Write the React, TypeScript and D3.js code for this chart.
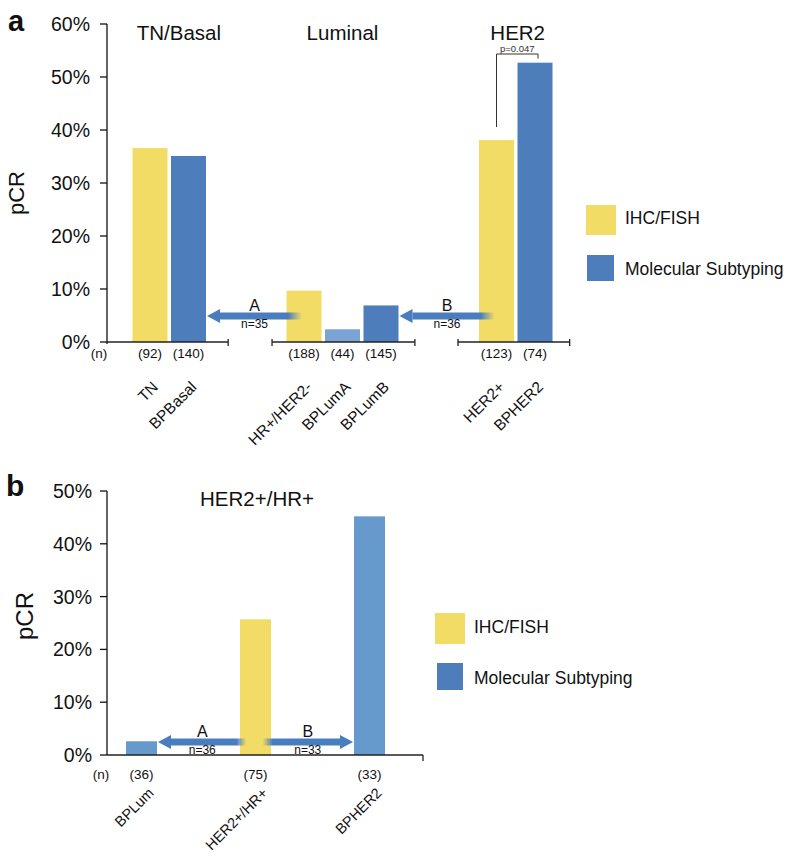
import React from "react";
import * as d3 from "d3";

// ---------- DATA ----------
const groupTitlesA = ["TN/Basal", "Luminal", "HER2"];
const categoriesA = ["TN", "BPBasal", "HR+/HER2-", "BPLumA", "BPLumB", "HER2+", "BPHER2"];
const valuesA = [36.6, 35.1, 9.7, 2.4, 6.9, 38.1, 52.7];
const countsA = [92, 140, 188, 44, 145, 123, 74];
const methodA = ["ihc", "mol", "ihc", "molLight", "mol", "ihc", "mol"];
const yTicksA = [0, 10, 20, 30, 40, 50, 60];
const arrowsA = [
  { label: "A", n: 35, from: "HR+/HER2-", to: "BPBasal" },
  { label: "B", n: 36, from: "HER2+", to: "BPLumB" },
];
const pValueA = { text: "p=0.047", from: "HER2+", to: "BPHER2" };

const groupTitleB = "HER2+/HR+";
const categoriesB = ["BPLum", "HER2+/HR+", "BPHER2"];
const valuesB = [2.6, 25.7, 45.2];
const countsB = [36, 75, 33];
const methodB = ["molB", "ihc", "molB"];
const yTicksB = [0, 10, 20, 30, 40, 50];
const arrowsB = [
  { label: "A", n: 36, from: "HER2+/HR+", to: "BPLum" },
  { label: "B", n: 33, from: "HER2+/HR+", to: "BPHER2" },
];

const legendLabels = ["IHC/FISH", "Molecular Subtyping"];

// ---------- LAYOUT / STYLE ----------
const COLORS: Record<string, string> = {
  ihc: "#F3DC66",
  mol: "#4D7EBB",
  molLight: "#7BA3D6",
  molB: "#6699CC",
  arrow: "#4A7DBE",
};
const FONT = "'Liberation Sans', Arial, Helvetica, sans-serif";
const slotsA = [0, 1, 4, 5, 6, 9, 10];
const titleSlotsA = [0.75, 5, 9.55];
const segmentsA: [number | null, number][] = [
  [null, 2.03],
  [3.17, 6.88],
  [8.0, 10.9],
];

function Arrow({ tip, tail, y, id, label, n, fade }: any) {
  const dir = tail > tip ? 1 : -1; // direction from tip to tail
  const headLen = 13;
  const headHalf = 7;
  const shaftHalf = 3.5;
  const shaftStart = tip + dir * headLen;
  const x0 = Math.min(shaftStart, tail);
  const w = Math.abs(tail - shaftStart);
  const mid = (tip + tail) / 2;
  return (
    <g>
      <defs>
        <linearGradient id={id} gradientUnits="userSpaceOnUse" x1={tail - dir * fade} x2={tail} y1={0} y2={0}>
          <stop offset="0" stopColor={COLORS.arrow} stopOpacity={1} />
          <stop offset="1" stopColor={COLORS.arrow} stopOpacity={0} />
        </linearGradient>
      </defs>
      <rect x={x0} y={y - shaftHalf} width={w} height={shaftHalf * 2} fill={`url(#${id})`} />
      <polygon
        points={`${tip},${y} ${shaftStart},${y - headHalf} ${shaftStart},${y + headHalf}`}
        fill={COLORS.arrow}
      />
      <text x={mid} y={y - 5} textAnchor="middle" fontSize={16}>
        {label}
      </text>
      <text x={mid} y={y + 11.5} textAnchor="middle" fontSize={12}>
        {`n=${n}`}
      </text>
    </g>
  );
}

export default function App() {
  const W = 786;
  const H = 857;

  // Panel a scales
  const yA = d3.scaleLinear().domain([0, 60]).range([342, 24]);
  const xA = d3.scaleLinear().domain([0, 10]).range([150, 535]);
  const bwA = 35;
  const axisXA = 107;
  const cxA = (cat: string) => xA(slotsA[categoriesA.indexOf(cat)]);

  // Panel b scales
  const yB = d3.scaleLinear().domain([0, 50]).range([755, 491]);
  const xB = d3.scaleLinear().domain([0, 2]).range([141.5, 369.5]);
  const bwB = 31;
  const axisXB = 107;
  const cxB = (cat: string) => xB(categoriesB.indexOf(cat));

  const pct = (v: number) => `${d3.format("d")(v)}%`;

  return (
    <svg
      width={W}
      height={H}
      style={{ position: "absolute", left: 0, top: 0, background: "#fff" }}
      fontFamily={FONT}
      fill="#111"
    >
      {/* ================= PANEL A ================= */}
      <text x={8} y={31} fontSize={29} fontWeight="bold">a</text>
      <text transform={`translate(24,193) rotate(-90)`} textAnchor="middle" fontSize={22}>pCR</text>

      {/* y axis */}
      <line x1={axisXA} x2={axisXA} y1={yA(60)} y2={yA(0) + 2} stroke="#111" strokeWidth={1.3} />
      {yTicksA.map((t) => (
        <g key={t}>
          <line x1={axisXA - 7} x2={axisXA} y1={yA(t)} y2={yA(t)} stroke="#111" strokeWidth={1.3} />
          <text x={90} y={yA(t)} dy="0.36em" textAnchor="end" fontSize={19.5}>{pct(t)}</text>
        </g>
      ))}

      {/* group titles */}
      {groupTitlesA.map((g, i) => (
        <text key={g} x={xA(titleSlotsA[i])} y={40} textAnchor="middle" fontSize={20.5}>{g}</text>
      ))}

      {/* bars */}
      {categoriesA.map((c, i) => (
        <rect
          key={c}
          x={xA(slotsA[i]) - bwA / 2}
          y={yA(valuesA[i])}
          width={bwA}
          height={yA(0) - yA(valuesA[i])}
          fill={COLORS[methodA[i]]}
        />
      ))}

      {/* baseline segments */}
      {segmentsA.map(([s, e], i) => {
        const x1 = s === null ? axisXA : xA(s);
        const x2 = xA(e);
        const y = yA(0);
        return (
          <g key={i} stroke="#222" strokeWidth={1.3}>
            <line x1={x1} x2={x2} y1={y} y2={y} />
            {s !== null && <line x1={x1} x2={x1} y1={y - 3} y2={y + 4} />}
            <line x1={x2} x2={x2} y1={y - 3} y2={y + 4} />
          </g>
        );
      })}

      {/* n labels */}
      <text x={99} y={358} textAnchor="middle" fontSize={13.5}>(n)</text>
      {categoriesA.map((c, i) => (
        <text key={c} x={xA(slotsA[i])} y={358} textAnchor="middle" fontSize={13.5}>{`(${countsA[i]})`}</text>
      ))}

      {/* rotated category labels */}
      {categoriesA.map((c, i) => (
        <text
          key={c}
          transform={`translate(${xA(slotsA[i]) + 9},${388}) rotate(-45)`}
          textAnchor="end"
          fontSize={15.5}
        >
          {c}
        </text>
      ))}

      {/* arrows */}
      {arrowsA.map((a, i) => {
        const tip = cxA(a.to) + bwA / 2 + 1;
        const tail = cxA(a.from) - 2;
        return (
          <Arrow key={a.label} id={`arrA${i}`} tip={tip} tail={tail} y={316} label={a.label} n={a.n} fade={14} />
        );
      })}

      {/* p-value bracket */}
      {(() => {
        const x1 = cxA(pValueA.from);
        const x2 = cxA(pValueA.to) + 3;
        const top = 54;
        return (
          <g>
            <path
              d={`M${x1},${yA(valuesA[categoriesA.indexOf(pValueA.from)]) - 13}V${top}H${x2}V${top + 4.5}`}
              fill="none"
              stroke="#333"
              strokeWidth={1}
            />
            <text x={(x1 + x2) / 2} y={52} textAnchor="middle" fontSize={9.5} fill="#333">{pValueA.text}</text>
          </g>
        );
      })()}

      {/* legend a */}
      <rect x={586} y={205} width={30} height={30} fill={COLORS.ihc} />
      <text x={625} y={218} dy="0.36em" fontSize={17.5}>{legendLabels[0]}</text>
      <rect x={587} y={255} width={27} height={26} fill={COLORS.mol} />
      <text x={625} y={269} dy="0.36em" fontSize={17.5}>{legendLabels[1]}</text>

      {/* ================= PANEL B ================= */}
      <text x={6} y={496} fontSize={30} fontWeight="bold">b</text>
      <text transform={`translate(33,616) rotate(-90)`} textAnchor="middle" fontSize={24}>pCR</text>

      <line x1={axisXB} x2={axisXB} y1={yB(50)} y2={yB(0)} stroke="#111" strokeWidth={1.3} />
      {yTicksB.map((t) => (
        <g key={t}>
          <line x1={axisXB - 7} x2={axisXB} y1={yB(t)} y2={yB(t)} stroke="#111" strokeWidth={1.3} />
          <text x={92} y={yB(t)} dy="0.36em" textAnchor="end" fontSize={19.5}>{pct(t)}</text>
        </g>
      ))}

      <text x={257} y={506} textAnchor="middle" fontSize={20.5}>{groupTitleB}</text>

      {categoriesB.map((c, i) => (
        <rect
          key={c}
          x={xB(i) - bwB / 2}
          y={yB(valuesB[i])}
          width={bwB}
          height={yB(0) - yB(valuesB[i])}
          fill={COLORS[methodB[i]]}
        />
      ))}

      <g stroke="#222" strokeWidth={1.3}>
        <line x1={axisXB} x2={423} y1={yB(0)} y2={yB(0)} />
        <line x1={423} x2={423} y1={yB(0)} y2={yB(0) + 6} />
      </g>

      <text x={101} y={779} textAnchor="middle" fontSize={13.5}>(n)</text>
      {categoriesB.map((c, i) => (
        <text key={c} x={xB(i)} y={779} textAnchor="middle" fontSize={13.5}>{`(${countsB[i]})`}</text>
      ))}

      {categoriesB.map((c, i) => (
        <text
          key={c}
          transform={`translate(${xB(i) + 13},${794}) rotate(-45)`}
          textAnchor="end"
          fontSize={14.5}
        >
          {c}
        </text>
      ))}

      {arrowsB.map((a, i) => {
        const toLeft = cxB(a.to) < cxB(a.from);
        const tip = toLeft ? cxB(a.to) + bwB / 2 + 1 : cxB(a.to) - bwB / 2 - 1;
        const tail = toLeft ? cxB(a.from) - 9 : cxB(a.from) + 7;
        return (
          <Arrow key={a.label} id={`arrB${i}`} tip={tip} tail={tail} y={742} label={a.label} n={a.n} fade={10} />
        );
      })}

      {/* legend b */}
      <rect x={435} y={613} width={30} height={31} fill={COLORS.ihc} />
      <text x={474} y={627} dy="0.36em" fontSize={17.5}>{legendLabels[0]}</text>
      <rect x={437} y={663} width={26} height={27} fill={COLORS.mol} />
      <text x={474} y={678} dy="0.36em" fontSize={17.5}>{legendLabels[1]}</text>
    </svg>
  );
}
